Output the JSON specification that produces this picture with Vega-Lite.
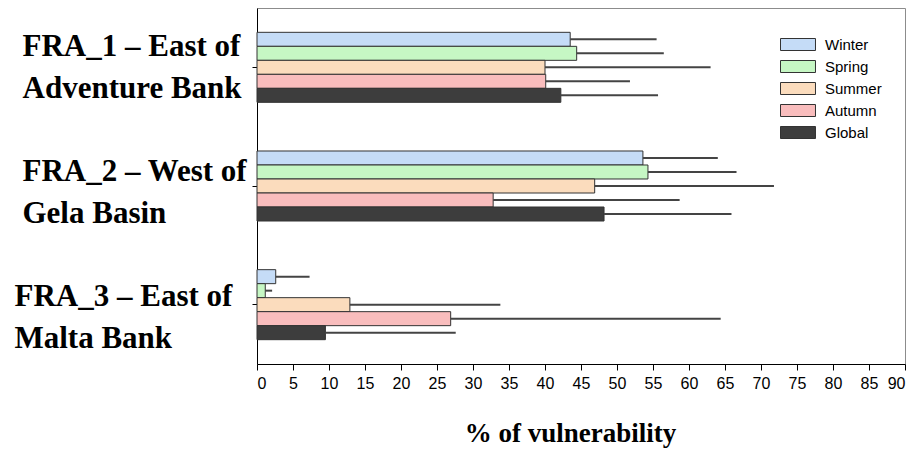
{
  "$schema": "https://vega.github.io/schema/vega-lite/v6.json",
  "width": 648,
  "height": 356,
  "autosize": {"type": "none"},
  "padding": {"left": 257, "top": 8, "right": 10, "bottom": 97},
  "background": "white",
  "config": {"view": {"stroke": "#8c8c8c", "strokeWidth": 1}},
  "data": {
    "values": [
      {"region": "FRA_1 – East of|Adventure Bank", "season": "Winter", "value": 43.5, "upper": 55.5},
      {"region": "FRA_1 – East of|Adventure Bank", "season": "Spring", "value": 44.4, "upper": 56.5},
      {"region": "FRA_1 – East of|Adventure Bank", "season": "Summer", "value": 40.0, "upper": 63.0},
      {"region": "FRA_1 – East of|Adventure Bank", "season": "Autumn", "value": 40.1, "upper": 51.8},
      {"region": "FRA_1 – East of|Adventure Bank", "season": "Global", "value": 42.2, "upper": 55.7},
      {"region": "FRA_2 – West of|Gela Basin", "season": "Winter", "value": 53.6, "upper": 64.0},
      {"region": "FRA_2 – West of|Gela Basin", "season": "Spring", "value": 54.3, "upper": 66.6},
      {"region": "FRA_2 – West of|Gela Basin", "season": "Summer", "value": 46.9, "upper": 71.8},
      {"region": "FRA_2 – West of|Gela Basin", "season": "Autumn", "value": 32.8, "upper": 58.7},
      {"region": "FRA_2 – West of|Gela Basin", "season": "Global", "value": 48.2, "upper": 65.9},
      {"region": "FRA_3 – East of|Malta Bank", "season": "Winter", "value": 2.6, "upper": 7.3},
      {"region": "FRA_3 – East of|Malta Bank", "season": "Spring", "value": 1.15, "upper": 2.1},
      {"region": "FRA_3 – East of|Malta Bank", "season": "Summer", "value": 12.9, "upper": 33.8},
      {"region": "FRA_3 – East of|Malta Bank", "season": "Autumn", "value": 26.9, "upper": 64.4},
      {"region": "FRA_3 – East of|Malta Bank", "season": "Global", "value": 9.5, "upper": 27.6}
    ]
  },
  "encoding": {
    "x": {
      "field": "value",
      "type": "quantitative",
      "scale": {"domain": [0, 90], "nice": false},
      "axis": {
        "title": "% of vulnerability",
        "titleFont": "Liberation Serif",
        "titleFontWeight": "bold",
        "titleFontSize": 27,
        "titleColor": "black",
        "titlePadding": 29,
        "titleX": 313,
        "titleAlign": "center",
        "values": [0, 5, 10, 15, 20, 25, 30, 35, 40, 45, 50, 55, 60, 65, 70, 75, 80, 85, 90],
        "labelOverlap": false,
        "labelFont": "Liberation Sans",
        "labelFontSize": 16,
        "labelColor": "black",
        "labelPadding": 5,
        "tickSize": 6,
        "tickColor": "black",
        "domainColor": "black",
        "grid": false
      }
    },
    "y": {
      "field": "region",
      "type": "nominal",
      "sort": null,
      "scale": {"paddingInner": 0.41, "paddingOuter": 0.205},
      "axis": {
        "title": null,
        "labelExpr": "split(datum.value, '|')",
        "labelFont": "Liberation Serif",
        "labelFontWeight": "bold",
        "labelFontSize": 31,
        "labelColor": "black",
        "labelAlign": "left",
        "labelBaseline": "middle",
        "labelLineHeight": 42,
        "labelLimit": 400,
        "labelPadding": {"condition": {"test": "indexof(datum.value, 'FRA_3') >= 0", "value": 238}, "value": 230},
        "labelOffset": {"condition": [
          {"test": "indexof(datum.value, 'FRA_1') >= 0", "value": -20},
          {"test": "indexof(datum.value, 'FRA_2') >= 0", "value": -14}
        ], "value": -8},
        "tickSize": 5,
        "tickColor": "black",
        "domainColor": "black"
      }
    },
    "yOffset": {
      "field": "season",
      "type": "nominal",
      "sort": ["Winter", "Spring", "Summer", "Autumn", "Global"],
      "scale": {"paddingInner": 0, "paddingOuter": 0}
    }
  },
  "layer": [
    {
      "mark": {"type": "bar", "stroke": "#333333", "strokeWidth": 1},
      "encoding": {
        "color": {
          "field": "season",
          "type": "nominal",
          "sort": ["Winter", "Spring", "Summer", "Autumn", "Global"],
          "scale": {
            "domain": ["Winter", "Spring", "Summer", "Autumn", "Global"],
            "range": ["#c5dcf7", "#c6f7c4", "#fbdcbd", "#f9bdbd", "#3d3d3d"]
          },
          "legend": {
            "title": null,
            "orient": "none",
            "legendX": 522,
            "legendY": 29,
            "symbolType": "M-1,-1H4.833V1H-1Z",
            "symbolSize": 144,
            "symbolStrokeColor": "#333333",
            "symbolStrokeWidth": 1,
            "symbolOpacity": 1,
            "labelFont": "Liberation Sans",
            "labelFontSize": 15,
            "labelColor": "black",
            "labelOffset": 31,
            "rowPadding": 5
          }
        }
      }
    },
    {
      "mark": {"type": "rule", "color": "#444444", "strokeWidth": 2},
      "encoding": {
        "x2": {"field": "upper"}
      }
    }
  ]
}
